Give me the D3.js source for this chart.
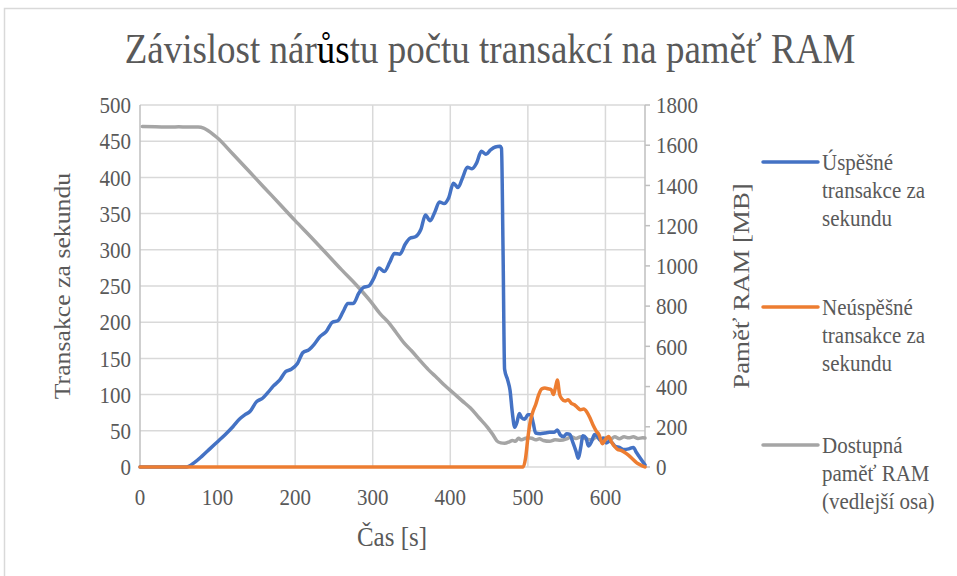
<!DOCTYPE html>
<html><head><meta charset="utf-8">
<script src="https://cdn.jsdelivr.net/npm/d3@7"></script>
<style>
html,body{margin:0;padding:0;background:#fff;}
svg{display:block;}
svg text{font-family:"Liberation Serif","Times New Roman","DejaVu Serif",serif;}
</style></head>
<body>
<svg id="chart" width="957" height="576" font-family="Liberation Serif, Times New Roman, DejaVu Serif, serif"></svg>
<script>
// ---- data ----
const successT = [0,55,60,70,80,90,100,110,120,128,135,142,150,158,165,172,180,188,195,203,210,218,225,232,240,248,255,262,268,275,282,288,295,302,308,315,322,328,335,342,348,355,362,368,374,380,386,392,398,404,410,416,422,428,434,440,446,452,458,464,466,468,470,474,477,480,483,486,489,492,496,500,504,507,510,516,522,528,534,538,542,546,550,554,558,562,565,568,571,575,578,582,586,590,593,597,601,606,612,618,624,630,636,640,645,651];
const successV = [0,0,0,6,15,25,35,45,56,66,72,77,90,95,103,112,120,132,135,143,158,162,170,180,187,200,202,215,226,226,240,248,250,262,275,270,283,295,294,308,316,318,328,348,340,352,366,364,372,392,386,400,414,412,420,436,432,438,442,443,440,300,135,120,106,75,55,62,74,68,66,72,72,60,47,46,47,48,48,51,44,42,46,45,34,22,12,26,43,40,29,35,45,42,37,40,33,36,29,27,24,25,27,20,12,3];

const failT = [0,494,497,500,503,507,510,514,518,522,526,530,533,536,538,541,544,548,552,556,560,564,568,572,576,580,584,588,592,596,600,604,608,612,616,620,625,630,635,640,645,651];
const failV = [0,0,12,40,62,78,86,100,108,109,108,107,100,112,120,100,94,91,93,88,86,82,79,80,76,68,58,50,44,32,38,42,34,28,24,23,20,16,11,6,3,0];

const ramT = [3,20,40,50,60,75,82,88,95,100,120,140,160,180,200,220,240,260,280,297,310,320,330,340,350,362,372,383,393,404,415,426,437,448,455,460,465,470,476,480,484,488,491,495,500,505,510,515,520,528,535,542,550,556,562,568,575,582,588,594,600,606,612,618,624,630,636,642,648,651];
const ramV = [1693,1692,1690,1692,1690,1690,1685,1672,1652,1636,1555,1473,1390,1308,1225,1145,1063,980,900,825,760,720,670,618,578,525,483,443,405,368,330,293,245,197,160,130,120,118,125,132,128,143,135,140,145,143,135,140,132,128,135,133,140,150,142,150,140,135,148,140,145,138,150,140,150,145,150,142,145,144];

const xTicks = [0,100,200,300,400,500,600];
const yLeftTicks = [0,50,100,150,200,250,300,350,400,450,500];
const yRightTicks = [0,200,400,600,800,1000,1200,1400,1600,1800];

const seriesNames = [["Úspěšné","transakce za","sekundu"],["Neúspěšné","transakce za","sekundu"],["Dostupná","paměť RAM","(vedlejší osa)"]];
const seriesColors = ["#4472C4","#ED7D31","#A5A5A5"];

// ---- layout ----
const svg = d3.select("#chart");
const FONT = "Liberation Serif, Times New Roman, DejaVu Serif, serif";
const L = 140, R = 645, T = 105, B = 467;
const textCol = "#595959";
const SY = 1.12; // vertical stretch of glyphs seen in the reference

const x = d3.scaleLinear().domain([0, 651]).range([L, R]);
const yL = d3.scaleLinear().domain([0, 500]).range([B, T]);
const yR = d3.scaleLinear().domain([0, 1800]).range([B, T]);

// chart border
svg.append("rect").attr("x",4.5).attr("y",8.5).attr("width",1000).attr("height",700)
  .attr("fill","none").attr("stroke","#D9D9D9").attr("stroke-width",1.5);

// gridlines
svg.append("g").selectAll("line").data(yLeftTicks).join("line")
  .attr("x1",L).attr("x2",R).attr("y1",d=>yL(d)).attr("y2",d=>yL(d))
  .attr("stroke","#D9D9D9").attr("stroke-width",1.5);
svg.append("g").selectAll("line").data(xTicks.filter(d=>d>0)).join("line")
  .attr("x1",d=>x(d)).attr("x2",d=>x(d)).attr("y1",T).attr("y2",B)
  .attr("stroke","#D9D9D9").attr("stroke-width",1.5);

// axis lines
svg.append("line").attr("x1",L).attr("x2",L).attr("y1",T).attr("y2",B).attr("stroke","#BFBFBF").attr("stroke-width",1.5);
svg.append("line").attr("x1",R).attr("x2",R).attr("y1",T).attr("y2",B).attr("stroke","#BFBFBF").attr("stroke-width",1.5);
svg.append("g").selectAll("line").data(yRightTicks).join("line")
  .attr("x1",R).attr("x2",R+5).attr("y1",d=>yR(d)).attr("y2",d=>yR(d))
  .attr("stroke","#BFBFBF").attr("stroke-width",1.5);

// helper: horizontal text stretched vertically around its own anchor
function htext(g, px, py, anchor, size, str){
  return g.append("text").attr("transform",`translate(${px},${py}) scale(1,${SY})`)
    .attr("dy","0.35em").attr("text-anchor",anchor)
    .attr("font-family",FONT).attr("font-size",size).attr("fill",textCol).text(str);
}

// tick labels
const fs = 21;
const gl = svg.append("g");
yLeftTicks.forEach(d=>htext(gl, L-9, yL(d), "end", fs, d));
const gr = svg.append("g");
yRightTicks.forEach(d=>htext(gr, R+11, yR(d), "start", fs, d));
const gx = svg.append("g");
xTicks.forEach(d=>htext(gx, x(d), B+30, "middle", fs, d));

// axis titles
svg.append("text").attr("transform",`translate(62,${(T+B)/2}) scale(1,${SY}) rotate(-90)`).attr("dy","0.35em")
  .attr("text-anchor","middle").attr("font-family",FONT).attr("font-size",23).attr("fill",textCol).text("Transakce za sekundu");
svg.append("text").attr("transform",`translate(741,${(T+B)/2}) scale(1,${SY}) rotate(-90)`).attr("dy","0.35em")
  .attr("text-anchor","middle").attr("font-family",FONT).attr("font-size",24).attr("fill",textCol).text("Paměť RAM [MB]");
htext(svg, 392, 536, "middle", 25, "Čas [s]");

// title
const title = svg.append("text").attr("transform",`translate(490,63) scale(1,${SY})`).attr("text-anchor","middle")
  .attr("font-family",FONT).attr("font-size",37).attr("fill",textCol);
title.append("tspan").text("Závislost nár");
title.append("tspan").attr("fill","#000").text("ůs");
title.append("tspan").text("tu počtu transakcí na paměť RAM");

// lines
const lineL = d3.line().x(d=>x(d[0])).y(d=>yL(d[1])).curve(d3.curveMonotoneX);
const lineR = d3.line().x(d=>x(d[0])).y(d=>yR(d[1])).curve(d3.curveMonotoneX);
const plots = [
  {pts: d3.zip(ramT, ramV), gen: lineR, col: seriesColors[2]},
  {pts: d3.zip(successT, successV), gen: lineL, col: seriesColors[0]},
  {pts: d3.zip(failT, failV), gen: lineL, col: seriesColors[1]}
];
svg.append("g").selectAll("path").data(plots).join("path")
  .attr("d",d=>d.gen(d.pts)).attr("fill","none").attr("stroke",d=>d.col)
  .attr("stroke-width",3.5).attr("stroke-linejoin","round").attr("stroke-linecap","round");

// legend
const legY = [162, 307, 445];
const lg = svg.append("g").selectAll("g").data(seriesNames).join("g")
  .attr("transform",(d,i)=>`translate(763,${legY[i]})`);
lg.append("line").attr("x1",0).attr("x2",55).attr("y1",0).attr("y2",0)
  .attr("stroke",(d,i)=>seriesColors[i]).attr("stroke-width",3.5).attr("stroke-linecap","round");
lg.each(function(d){
  const g = d3.select(this);
  d.forEach((s,j)=>htext(g, 59, j*28, "start", 21, s));
});
</script>
</body></html>
